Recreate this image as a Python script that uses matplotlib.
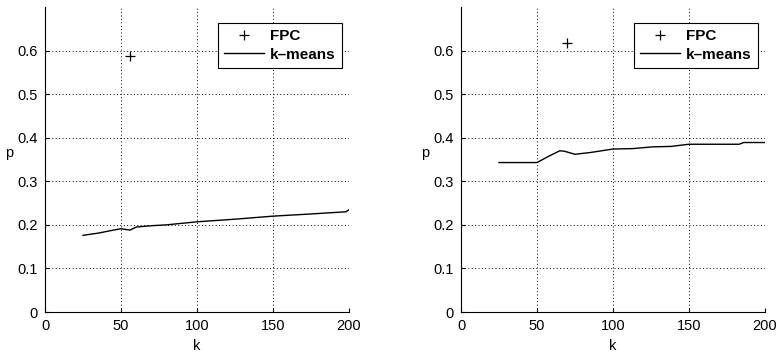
import matplotlib
matplotlib.use("Agg")
import matplotlib.pyplot as plt

plt.rcParams['font.family'] = ['Liberation Sans', 'DejaVu Sans']

# left panel
k_left = [25, 35, 45, 50, 56, 60, 70, 80, 100, 125, 150, 175, 198, 200]
p_left = [0.176, 0.181, 0.188, 0.191, 0.188, 0.195, 0.198, 0.200, 0.207, 0.213, 0.220, 0.225, 0.230, 0.235]
fpc_left = (56, 0.587)

# right panel
k_right = [25, 35, 45, 50, 58, 65, 68, 75, 85, 100, 113, 126, 138, 150, 170, 183, 186, 200]
p_right = [0.343, 0.343, 0.343, 0.343, 0.358, 0.370, 0.369, 0.362, 0.366, 0.374, 0.375, 0.379, 0.380, 0.385, 0.385, 0.385, 0.389, 0.389]
fpc_right = (70, 0.618)

xticks = [0, 50, 100, 150, 200]
yticks = [0, 0.1, 0.2, 0.3, 0.4, 0.5, 0.6]

fig = plt.figure(figsize=(7.79, 3.54), dpi=100)
lefts = [45 / 779, 461 / 779]
panels = [(k_left, p_left, fpc_left), (k_right, p_right, fpc_right)]

for left, (k, p, fpc) in zip(lefts, panels):
    ax = fig.add_axes([left, 42 / 354, 304 / 779, 305 / 354])
    ax.plot([fpc[0]], [fpc[1]], '+', color='black', markersize=7, markeredgewidth=0.9, label='FPC')
    ax.plot(k, p, '-', color='black', linewidth=1.0, label='k\u2013means')
    ax.set_xlim(0, 200)
    ax.set_ylim(0, 0.7)
    ax.set_xticks(xticks)
    ax.set_xticklabels([str(t) for t in xticks])
    ax.set_yticks(yticks)
    ax.set_yticklabels(['0'] + ['%.1f' % t for t in yticks[1:]])
    ax.tick_params(direction='in', labelsize=10.5, length=3, pad=5)
    ax.spines['top'].set_visible(False)
    ax.spines['right'].set_visible(False)
    ax.grid(True, color='black', linestyle=(0, (1, 2.5)), linewidth=0.7)
    ax.set_xlabel('k', fontsize=10.5, labelpad=4)
    ax.set_ylabel('p', fontsize=10.5, rotation=0, labelpad=6)
    leg = ax.legend(loc='upper right', bbox_to_anchor=(0.977, 0.948), frameon=True, fancybox=False,
                    edgecolor='black', framealpha=1, prop={'weight': 'bold', 'size': 11},
                    handlelength=2.6, borderpad=0.4, labelspacing=0.3, handletextpad=0.4,
                    borderaxespad=0)
    leg.get_frame().set_linewidth(0.8)

fig.savefig('out.png', dpi=100)
